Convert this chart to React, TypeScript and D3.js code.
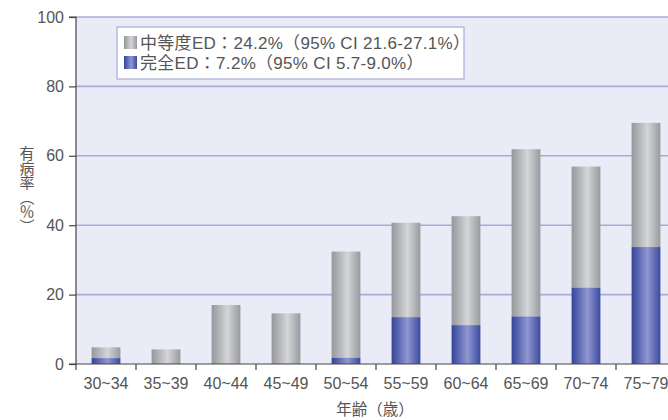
import React, { useEffect, useRef } from 'react';
import * as d3 from 'd3';

const ageGroups = ['30~34', '35~39', '40~44', '45~49', '50~54', '55~59', '60~64', '65~69', '70~74', '75~79'];
const completeED = [1.7, 0, 0, 0, 1.8, 13.5, 11.2, 13.7, 22.0, 33.7];
const moderateED = [3.1, 4.2, 17.0, 14.6, 30.6, 27.2, 31.4, 48.2, 34.9, 35.8];
const yTicks = [0, 20, 40, 60, 80, 100];
const legendLabels = ['中等度ED：24.2%（95% CI 21.6-27.1%）', '完全ED：7.2%（95% CI 5.7-9.0%）'];

const FONT = '"Liberation Sans", "Noto Sans CJK JP", sans-serif';
const CJK = '"Noto Sans CJK JP", sans-serif';

export default function App() {
  const svgRef = useRef<SVGSVGElement>(null);

  useEffect(() => {
    document.body.style.margin = '0';
    if (!svgRef.current) return;
    const width = 668;
    const height = 420;
    const margin = { top: 17, right: 0, bottom: 56, left: 76 };

    const root = d3.select(svgRef.current);
    root.selectAll('*').remove();
    root.attr('width', width).attr('height', height);

    const defs = root.append('defs');
    const grad = (id: string, stops: [number, string][]) => {
      const g = defs.append('linearGradient').attr('id', id).attr('x1', '0%').attr('x2', '100%').attr('y1', '0%').attr('y2', '0%');
      stops.forEach(([o, c]) => g.append('stop').attr('offset', `${o}%`).attr('stop-color', c));
    };
    grad('gGray', [[0, '#96979b'], [55, '#d3d5d9'], [100, '#999a9e']]);
    grad('gBlue', [[0, '#34449a'], [55, '#9096d0'], [100, '#3a4a9e']]);

    const plotH = height - margin.top - margin.bottom;

    const x = d3.scaleBand<string>()
      .domain(ageGroups)
      .range([margin.left, margin.left + 60 * ageGroups.length])
      .paddingInner(0.52)
      .paddingOuter(0.26);

    const y = d3.scaleLinear().domain([0, 100]).range([margin.top + plotH, margin.top]);

    // plot background
    root.append('rect')
      .attr('x', margin.left).attr('y', y(100))
      .attr('width', width - margin.left).attr('height', y(0) - y(100))
      .attr('fill', '#e9ecf6');

    // grid lines
    root.append('g')
      .selectAll('line')
      .data(yTicks.filter(t => t > 0))
      .join('line')
      .attr('x1', margin.left).attr('x2', width)
      .attr('y1', d => y(d)).attr('y2', d => y(d))
      .attr('stroke', '#a9acd8').attr('stroke-width', 1.6);

    // bars
    const data = ageGroups.map((g, i) => ({ g, c: completeED[i], m: moderateED[i] }));
    const bars = root.append('g');
    bars.selectAll('rect.m')
      .data(data)
      .join('rect')
      .attr('class', 'm')
      .attr('x', d => x(d.g)!)
      .attr('width', x.bandwidth())
      .attr('y', d => y(d.c + d.m))
      .attr('height', d => y(d.c) - y(d.c + d.m))
      .attr('fill', 'url(#gGray)');
    bars.selectAll('rect.c')
      .data(data.filter(d => d.c > 0))
      .join('rect')
      .attr('class', 'c')
      .attr('x', d => x(d.g)!)
      .attr('width', x.bandwidth())
      .attr('y', d => y(d.c))
      .attr('height', d => y(0) - y(d.c))
      .attr('fill', 'url(#gBlue)');

    // y axis
    const yAxis = root.append('g')
      .attr('transform', `translate(${margin.left},0)`)
      .call(d3.axisLeft(y).tickValues(yTicks).tickSize(7).tickPadding(5));
    yAxis.select('.domain').attr('stroke', '#444').attr('stroke-width', 1.2).attr('d', `M-7,${y(100)}H0V${y(0)}`);
    yAxis.selectAll('.tick line').attr('stroke', '#444').attr('stroke-width', 1.2);
    yAxis.selectAll('text')
      .style('font-family', FONT).style('font-size', '16px').style('fill', '#555');

    // x axis
    const xAxis = root.append('g')
      .attr('transform', `translate(0,${y(0)})`);
    xAxis.append('line')
      .attr('x1', margin.left - 7).attr('x2', width)
      .attr('stroke', '#444').attr('stroke-width', 1.2);
    xAxis.selectAll('line.tk')
      .data(ageGroups)
      .join('line')
      .attr('class', 'tk')
      .attr('x1', d => x(d)! - x.step() * x.paddingOuter())
      .attr('x2', d => x(d)! - x.step() * x.paddingOuter())
      .attr('y1', 0).attr('y2', 6)
      .attr('stroke', '#444').attr('stroke-width', 1.2);
    xAxis.selectAll('text')
      .data(ageGroups)
      .join('text')
      .attr('x', d => x(d)! + x.bandwidth() / 2)
      .attr('y', 25)
      .attr('text-anchor', 'middle')
      .style('font-family', FONT).style('font-size', '16px').style('fill', '#555')
      .text(d => d);

    // axis titles
    root.append('text')
      .attr('x', 375).attr('y', 415)
      .attr('text-anchor', 'middle')
      .style('font-family', CJK).style('font-size', '15.5px').style('fill', '#555')
      .text('年齢（歳）');

    root.append('text')
      .attr('x', 27).attr('y', 146)
      .style('writing-mode', 'vertical-rl')
      .style('font-family', CJK).style('font-size', '15px').style('fill', '#555')
      .style('letter-spacing', '-0.5px')
      .text('有病率（％）');

    // legend
    const legend = root.append('g').attr('transform', 'translate(117,27)');
    legend.append('rect')
      .attr('width', 347).attr('height', 52)
      .attr('fill', '#fff').attr('stroke', '#a9acd8').attr('stroke-width', 1.2);
    ['url(#gGray)', 'url(#gBlue)'].forEach((fill, i) => {
      legend.append('rect')
        .attr('x', 7).attr('y', 9 + i * 20)
        .attr('width', 13).attr('height', 13)
        .attr('fill', fill);
      legend.append('text')
        .attr('x', 23).attr('y', 21.5 + i * 20)
        .style('font-family', FONT).style('font-size', '17px').style('fill', '#555')
        .style('letter-spacing', '0.3px')
        .text(legendLabels[i]);
    });
  }, []);

  return <svg ref={svgRef} style={{ display: 'block' }} />;
}
